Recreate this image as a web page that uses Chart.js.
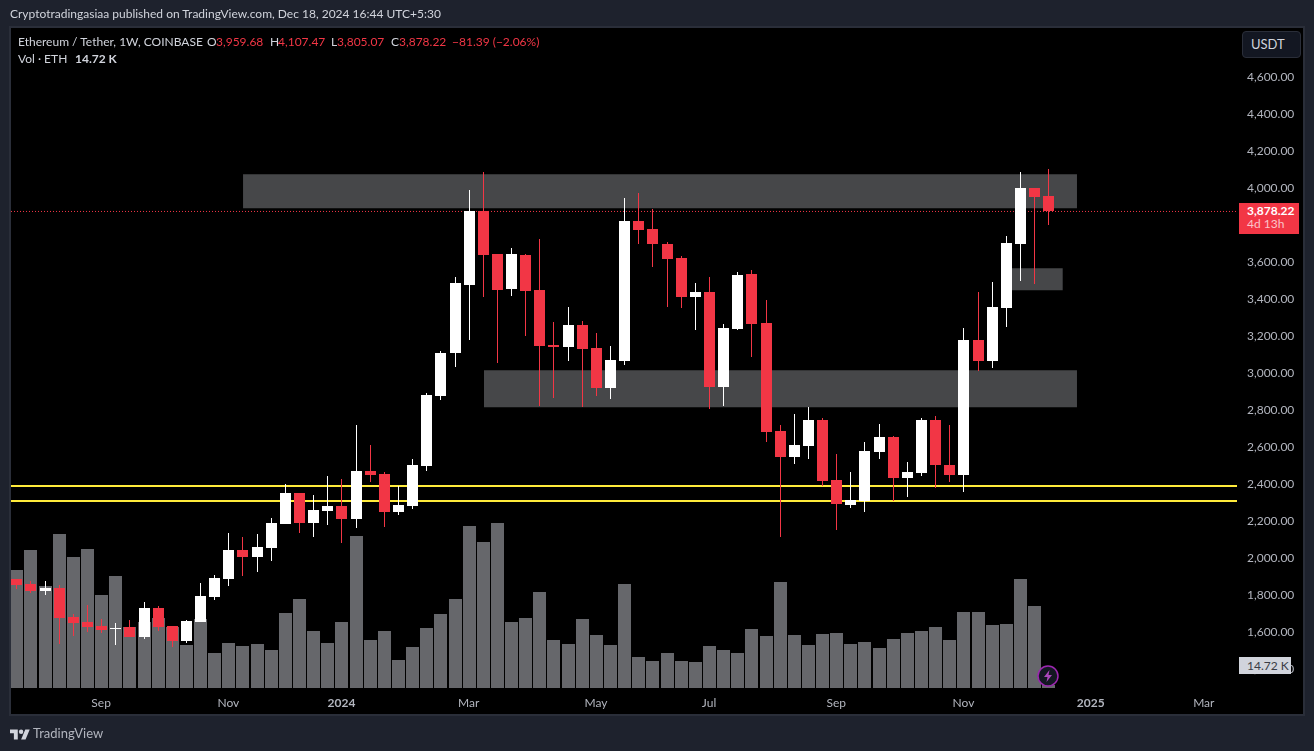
<!DOCTYPE html>
<html lang="en">
<head>
<meta charset="UTF-8">
<title>Ethereum / Tether, 1W, COINBASE</title>
<script src="https://cdn.jsdelivr.net/npm/chart.js"></script>
<style>
    html, body { margin: 0; padding: 0; width: 1314px; height: 751px; overflow: hidden; background: #1e222d; }
    body { font-family: Lato, sans-serif; color: #d1d4dc; font-size: 12px; }
    #panel { position: absolute; left: 9px; top: 26px; width: 1292px; height: 686px; background: #000; border: 2px solid #2a2e39; }
    canvas { position: absolute; left: 0; top: 0; }
    .t { position: absolute; white-space: nowrap; line-height: 14px; }
    .red { color: #f23645; }
    #usdt { position: absolute; left: 1242px; top: 31px; width: 57px; height: 25px; background: #131722; border: 1px solid #2a2e39; border-radius: 4px; font-size: 13px; line-height: 25px; text-indent: 8px; color: #d1d4dc; }
    #lastTag { position: absolute; left: 1239px; top: 203px; width: 60px; height: 31px; background: #f23645; }
    #volTag { position: absolute; left: 1239px; top: 657px; width: 52px; height: 17px; background: #d1d4dc; color: #3a3d46; line-height: 17px; text-indent: 8px; }
</style>
</head>
<body>
<div id="panel"></div>
<canvas id="chart" width="1314" height="751"></canvas>

<div class="t" style="left:10px;top:7px">Cryptotradingasiaa published on TradingView.com, Dec 18, 2024 16:44 UTC+5:30</div>
<div class="t" style="left:18px;top:35px">Ethereum / Tether, 1W, COINBASE</div>
<div class="t" style="left:207px;top:35px">O</div><div class="t red" style="left:216px;top:35px">3,959.68</div>
<div class="t" style="left:270px;top:35px">H</div><div class="t red" style="left:278px;top:35px">4,107.47</div>
<div class="t" style="left:331px;top:35px">L</div><div class="t red" style="left:337px;top:35px">3,805.07</div>
<div class="t" style="left:391px;top:35px">C</div><div class="t red" style="left:399px;top:35px">3,878.22</div>
<div class="t red" style="left:452px;top:35px">−81.39 (−2.06%)</div>
<div class="t" style="left:18px;top:52px">Vol · ETH</div>
<div class="t" style="left:75px;top:52px;font-weight:bold">14.72 K</div>

<div id="usdt">USDT</div>
<div id="lastTag"></div>
<div class="t" style="left:1247px;top:204px;color:#fff;font-weight:bold">3,878.22</div>
<div class="t" style="left:1247px;top:217px;color:#fbc4c9">4d 13h</div>
<div id="volTag">14.72 K</div>

<svg style="position:absolute;left:1037px;top:665px" width="22" height="22" viewBox="0 0 22 22">
    <circle cx="11" cy="11" r="10" fill="#131722" stroke="#9c27b0" stroke-width="1.5"/>
    <path d="M12.5 5 L7 12 L10.5 12 L9.5 17 L15 10 L11.5 10 Z" fill="#ab47bc"/>
</svg>
<svg style="position:absolute;left:10px;top:727px" width="20" height="16" viewBox="0 0 36 28">
    <path d="M14 22H7V11H0V4h14v18zM28 22h-8l7.5-18h8L28 22z" fill="#d1d4dc"/>
    <circle cx="20" cy="8" r="4" fill="#d1d4dc"/>
</svg>
<div class="t" style="left:33px;top:726px;font-size:13px;color:#b2b5be">TradingView</div>

<script>
    // weekly candles (USDT)
    const opens = [1890,1863,1825,1841,1685,1657,1636,1620,1630,1576,1733,1636,1555,1657,1793,1890,2047,2009,2058,2187,
        2355,2193,2257,2284,2214,2474,2457,2252,2284,2500,2879,3111,3479,3879,3647,3457,3641,3452,3155,3144,
        3263,3139,2922,3068,3825,3782,3701,3625,3414,3441,2928,3241,3538,3274,2690,2549,2609,2749,2425,2290,
        2312,2576,2657,2436,2463,2749,2506,2452,3182,3068,3355,3701,4003,3959.68];
    const highs = [1890,1879,1879,1857,1701,1749,1674,1652,1668,1766,1744,1636,1668,1868,1912,2138,2117,2133,2220,2403,
        2355,2344,2447,2430,2722,2614,2468,2393,2539,2895,3122,3522,3992,4090,3647,3679,3647,3728,3279,3360,
        3284,3220,3149,3949,3976,3890,3711,3636,3490,3522,3268,3549,3560,3398,2722,2782,2820,2760,2565,2468,
        2630,2728,2663,2522,2760,2771,2722,3247,3441,3495,3744,4090,4003,4107.47];
    const lows = [1836,1814,1803,1539,1583,1603,1598,1533,1576,1566,1609,1522,1544,1657,1776,1852,1906,1928,1987,2187,
        2138,2117,2182,2084,2166,2414,2171,2236,2268,2474,2857,3036,3182,3414,3057,3420,3203,2825,2868,3068,
        2820,2879,2863,3047,3701,3576,3360,3355,3236,2809,2825,3236,3090,2630,2117,2511,2539,2393,2155,2274,
        2252,2539,2312,2333,2447,2382,2414,2360,3014,3030,3252,3501,3484,3805.07];
    const closes = [1857,1825,1841,1679,1652,1630,1614,1625,1576,1733,1630,1555,1663,1798,1895,2047,2009,2063,2193,2355,
        2193,2263,2284,2214,2474,2452,2252,2290,2506,2884,3111,3490,3879,3641,3452,3647,3447,3149,3144,3263,
        3133,2922,3074,3825,3776,3701,3620,3414,3441,2928,3247,3533,3268,2684,2549,2614,2749,2420,2295,2317,
        2582,2657,2436,2468,2749,2506,2452,3182,3068,3360,3706,4003,3955,3878.22];
    // volume in thousands of ETH
    const volumes = [588,688,508,768,653,693,463,558,303,328,348,303,213,343,173,223,208,218,188,373,
        443,283,223,328,758,238,283,138,203,298,368,443,808,728,823,328,348,478,238,218,
        343,263,213,518,153,133,173,133,128,208,188,173,293,258,528,263,213,268,273,218,
        228,198,243,273,283,303,238,378,378,313,318,543,408,14.72];

    // time axis: bar index of each labelled week
    const timeTicks = [6,15,23,32,41,49,58,67,76,84];
    const timeLabels = ['Sep','Nov','2024','Mar','May','Jul','Sep','Nov','2025','Mar'];
    const priceTicks = [1400,1600,1800,2000,2200,2400,2600,2800,3000,3200,3400,3600,3800,4000,4200,4400,4600];

    // drawn zones [from bar, to bar, top price, bottom price]
    const zones = [
        [16.04, 75.03, 4079, 3895],
        [33.08, 75.03, 3020, 2820],
        [70, 74.03, 3571, 3452]
    ];
    const supportLines = [2394, 2313];
    const lastPrice = 3878.22;

    const xMin = -0.375, xMax = 86.35;
    const UP = '#ffffff', DOWN = '#f23645';
    const candleColors = closes.map((c, i) => c >= opens[i] ? UP : DOWN);

    const datasets = [];
    datasets.push({
        type: 'bar', yAxisID: 'yVol', order: 10, barThickness: 13, backgroundColor: '#66676b',
        data: volumes.map((v, i) => ({ x: i, y: v }))
    });
    zones.forEach(z => {
        datasets.push({
            type: 'line', yAxisID: 'y', order: 9, pointRadius: 0, borderWidth: 0,
            backgroundColor: '#464749', fill: { value: z[3] },
            data: [{ x: z[0], y: z[2] }, { x: z[1], y: z[2] }]
        });
    });
    datasets.push({
        type: 'line', yAxisID: 'y', order: 8, pointRadius: 0, borderWidth: 1, borderColor: DOWN,
        borderDash: [1, 2], fill: false,
        data: [{ x: xMin, y: lastPrice }, { x: xMax, y: lastPrice }]
    });
    supportLines.forEach(p => {
        datasets.push({
            type: 'line', yAxisID: 'y', order: 7, pointRadius: 0, borderWidth: 2, borderColor: '#ffeb3b', fill: false,
            data: [{ x: xMin, y: p }, { x: xMax, y: p }]
        });
    });
    // wicks and bodies, both floating bars
    datasets.push({
        type: 'bar', yAxisID: 'y', order: 2, barThickness: 1, backgroundColor: candleColors,
        data: highs.map((h, i) => ({ x: i, y: [lows[i], h] }))
    });
    datasets.push({
        type: 'bar', yAxisID: 'y', order: 1, barThickness: 11, backgroundColor: candleColors,
        data: opens.map((o, i) => ({ x: i, y: [o, closes[i]] }))
    });

    // keep the bars on whole pixels so they stay crisp like the original
    const snapBars = {
        id: 'snapBars',
        afterDatasetsUpdate(chart) {
            chart.getSortedVisibleDatasetMetas().forEach(meta => {
                if (meta.type !== 'bar') return;
                meta.data.forEach(el => {
                    el.x = Math.round(el.x) + 0.5;
                    el.y = Math.round(el.y);
                    el.base = Math.round(el.base);
                    if (el.y === el.base) el.base = el.y + 1;
                });
            });
        }
    };

    new Chart(document.getElementById('chart').getContext('2d'), {
        type: 'bar',
        data: { datasets: datasets },
        plugins: [snapBars],
        options: {
            responsive: false,
            animation: false,
            events: [],
            layout: { padding: { left: 11, top: 28, right: 11, bottom: 37 } },
            datasets: { bar: { grouped: false, inflateAmount: 0, borderWidth: 0 } },
            plugins: { legend: { display: false }, tooltip: { enabled: false } },
            scales: {
                x: {
                    type: 'linear', min: xMin, max: xMax, offset: false,
                    grid: { display: false, offset: false }, border: { display: false },
                    afterBuildTicks: s => { s.ticks = timeTicks.map(v => ({ value: v })); },
                    afterFit: s => { s.height = 26; },
                    ticks: {
                        autoSkip: false, maxRotation: 0, padding: 0, color: '#b2b5be',
                        font: c => ({
                            family: 'Lato, sans-serif', size: 12,
                            weight: /^\d+$/.test(c.tick ? c.tick.label : '') ? 'bold' : 'normal'
                        }),
                        callback: v => timeLabels[timeTicks.indexOf(v)]
                    }
                },
                y: {
                    position: 'right', min: 1302, max: 4870,
                    grid: { display: false }, border: { display: false },
                    afterBuildTicks: s => { s.ticks = priceTicks.map(v => ({ value: v })); },
                    afterFit: s => { s.width = 66; },
                    ticks: {
                        padding: 2, color: '#b2b5be', autoSkip: false, labelOffset: -1,
                        font: { family: 'Lato, sans-serif', size: 12 },
                        callback: v => v.toLocaleString('en-US', { minimumFractionDigits: 2 })
                    }
                },
                yVol: { display: false, min: 0, max: 3300 }
            }
        }
    });
</script>
</body>
</html>
